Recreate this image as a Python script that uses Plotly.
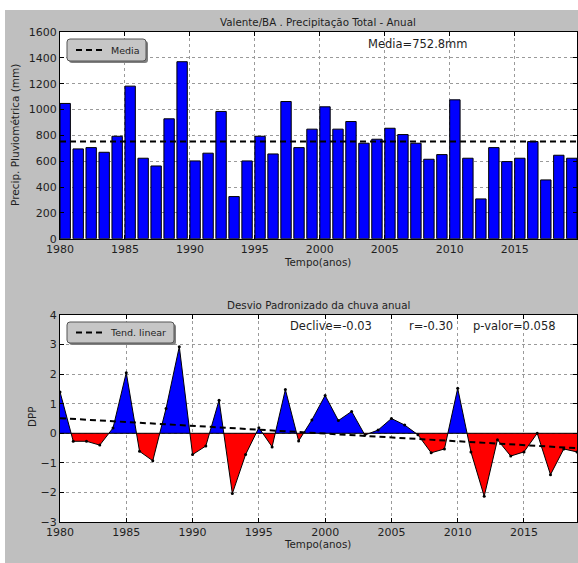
import numpy as np
import plotly.graph_objects as go

# ---- data -------------------------------------------------------------
ANOS = list(range(1980, 2020))
PRECIP = [1047, 695, 705, 669, 793, 1181, 623, 563, 928, 1370,
          602, 662, 985, 326, 602, 793, 656, 1062, 705, 848,
          1021, 848, 907, 739, 770, 855, 806, 739, 615, 651,
          1075, 623, 308, 705, 597, 623, 752, 455, 646, 623]
MEDIA = 752.8
DPP = [1.40, -0.27, -0.27, -0.40, 0.18, 2.05, -0.61, -0.93, 0.84, 2.93,
       -0.72, -0.43, 1.12, -2.04, -0.72, 0.19, -0.46, 1.48, -0.26, 0.45,
       1.28, 0.43, 0.74, -0.06, 0.11, 0.50, 0.28, -0.05, -0.66, -0.53,
       1.52, -0.63, -2.13, -0.22, -0.77, -0.63, 0.0, -1.40, -0.53, -0.63]
TICKS_X = [1980, 1985, 1990, 1995, 2000, 2005, 2010, 2015]
TITULO_1 = "Valente/BA . Precipitação Total - Anual"
TITULO_2 = "Desvio Padronizado da chuva anual"
TXT_MEDIA = "Media=752.8mm"
TXT_DECLIVE = "Declive=-0.03"
TXT_R = "r=-0.30"
TXT_P = "p-valor=0.058"

# ---- page geometry ------------------------------------------------------
W, H = 578, 563
ML, MR, MT, MB = 60, 1, 32, 41
PW, PH = W - ML - MR, H - MT - MB


def px(xp):
    return (xp - ML) / PW


def py(yp):
    return (H - MB - yp) / PH


FONT = "DejaVu Sans"
INK = "#1e1e1e"
BG = "#bfbfbf"

# ---- DPP split into positive / negative areas ----------------------------
xs, ys = [], []
for i, (a, d) in enumerate(zip(ANOS, DPP)):
    if i > 0:
        a0, d0 = ANOS[i - 1], DPP[i - 1]
        if d0 * d < 0:
            xs.append(a0 + (a - a0) * d0 / (d0 - d))
            ys.append(0.0)
    xs.append(a)
    ys.append(d)
ys = np.array(ys)
pos = np.maximum(ys, 0)
neg = np.minimum(ys, 0)

coef = np.polyfit(ANOS, DPP, 1)
tend = np.polyval(coef, ANOS)

fig = go.Figure()

# top panel: annual totals
fig.add_trace(go.Bar(x=ANOS, y=PRECIP, width=0.8, offset=0,
                     marker=dict(color="#0000ff", line=dict(color="black", width=1)),
                     xaxis="x", yaxis="y", showlegend=False, hoverinfo="x+y"))
fig.add_trace(go.Scatter(x=[ANOS[0], ANOS[-1] + 0.8], y=[MEDIA, MEDIA], mode="lines",
                         line=dict(color="black", width=2, dash="6px,4px"),
                         name="Media", xaxis="x", yaxis="y", legend="legend"))

# bottom panel: standardized anomaly
fig.add_trace(go.Scatter(x=xs, y=pos, mode="lines", fill="tozeroy",
                         fillcolor="#0000ff", line=dict(width=0, color="#0000ff"),
                         xaxis="x2", yaxis="y2", showlegend=False, hoverinfo="skip"))
fig.add_trace(go.Scatter(x=xs, y=neg, mode="lines", fill="tozeroy",
                         fillcolor="#ff0000", line=dict(width=0, color="#ff0000"),
                         xaxis="x2", yaxis="y2", showlegend=False, hoverinfo="skip"))
fig.add_trace(go.Scatter(x=ANOS, y=DPP, mode="lines+markers",
                         line=dict(color="black", width=1),
                         marker=dict(color="black", size=3),
                         xaxis="x2", yaxis="y2", showlegend=False))
fig.add_trace(go.Scatter(x=ANOS, y=tend, mode="lines",
                         line=dict(color="black", width=2, dash="6px,4px"),
                         name="Tend. linear", xaxis="x2", yaxis="y2", legend="legend2"))

axis = dict(showline=True, linecolor="black", linewidth=1, mirror="ticks",
            ticks="inside", ticklen=4, tickcolor="black", tickwidth=1,
            showgrid=True, gridcolor="#9a9a9a", griddash="dot", gridwidth=1,
            zeroline=False, tickfont=dict(family=FONT, size=11, color=INK))

# legend frames (rounded box with drop shadow)
def rbox(x0, y0, x1, y1, r=3):
    X0, X1 = px(x0), px(x1)
    Y0, Y1 = py(y0), py(y1)
    rx, ry = r / PW, r / PH
    return (f"M {X0+rx},{Y0} L {X1-rx},{Y0} Q {X1},{Y0} {X1},{Y0-ry} "
            f"L {X1},{Y1+ry} Q {X1},{Y1} {X1-rx},{Y1} L {X0+rx},{Y1} "
            f"Q {X0},{Y1} {X0},{Y1+ry} L {X0},{Y0-ry} Q {X0},{Y0} {X0+rx},{Y0} Z")

shapes = [
    dict(type="rect", xref="paper", yref="paper", x0=px(0), x1=px(W), y0=py(0), y1=py(10),
         fillcolor="white", line=dict(width=0), layer="below"),
    dict(type="rect", xref="paper", yref="paper", x0=px(0), x1=px(5), y0=py(H), y1=py(0),
         fillcolor="white", line=dict(width=0), layer="below"),
    dict(type="line", xref="x2 domain", yref="y2", x0=0, x1=1, y0=0, y1=0,
         line=dict(color="black", width=1), layer="above"),
]
for (x0, y0, x1, y1) in [(67, 39, 146, 61), (67, 322, 174, 343)]:
    shapes.append(dict(type="path", xref="paper", yref="paper",
                       path=rbox(x0 + 2, y0 + 2, x1 + 2, y1 + 2),
                       fillcolor="#808080", line=dict(width=0), layer="above"))
    shapes.append(dict(type="path", xref="paper", yref="paper",
                       path=rbox(x0, y0, x1, y1),
                       fillcolor="#c6c6c6", line=dict(color="#555555", width=1), layer="above"))


def txt(text, x, y, size, angle=0):
    return dict(text=text, xref="paper", yref="paper", x=px(x), y=py(y),
                xanchor="center", yanchor="middle", showarrow=False, textangle=angle,
                borderpad=0, font=dict(family=FONT, size=size, color=INK))


annotations = [
    txt(TITULO_1, 318, 22, 10.3),
    txt(TXT_MEDIA, 418, 44, 11.5),
    txt("Tempo(anos)", 317, 262, 10.3),
    txt("Precip. Pluviométrica (mm)", 15, 135, 10.5, -90),
    txt(TITULO_2, 318, 305, 10.3),
    txt(TXT_DECLIVE, 331, 326, 11.5),
    txt(TXT_R, 431, 326, 11.5),
    txt(TXT_P, 514, 326, 11.5),
    txt("Tempo(anos)", 317, 544, 10.3),
    txt("DPP", 32, 417, 10.3, -90),
]

legend_style = dict(bgcolor="rgba(0,0,0,0)", borderwidth=0,
                    font=dict(family=FONT, size=9.5, color=INK),
                    xanchor="left", yanchor="middle", itemclick=False)

fig.update_layout(
    width=W, height=H,
    margin=dict(l=ML, r=MR, t=MT, b=MB),
    paper_bgcolor=BG, plot_bgcolor="white",
    xaxis=dict(axis, domain=[0, 1], range=[1980, 2019.8], tickvals=TICKS_X, anchor="y"),
    yaxis=dict(axis, domain=[py(238.7), 1], range=[0, 1600], dtick=200, anchor="x"),
    xaxis2=dict(axis, domain=[0, 1], range=[1980, 2019], tickvals=TICKS_X, anchor="y2"),
    yaxis2=dict(axis, domain=[0, py(315)], range=[-3, 4], dtick=1, anchor="x2"),
    legend=dict(legend_style, x=px(71), y=py(50)),
    legend2=dict(legend_style, x=px(71), y=py(332.5)),
    shapes=shapes,
    annotations=annotations,
    showlegend=True,
)

fig.write_html("out.html")
